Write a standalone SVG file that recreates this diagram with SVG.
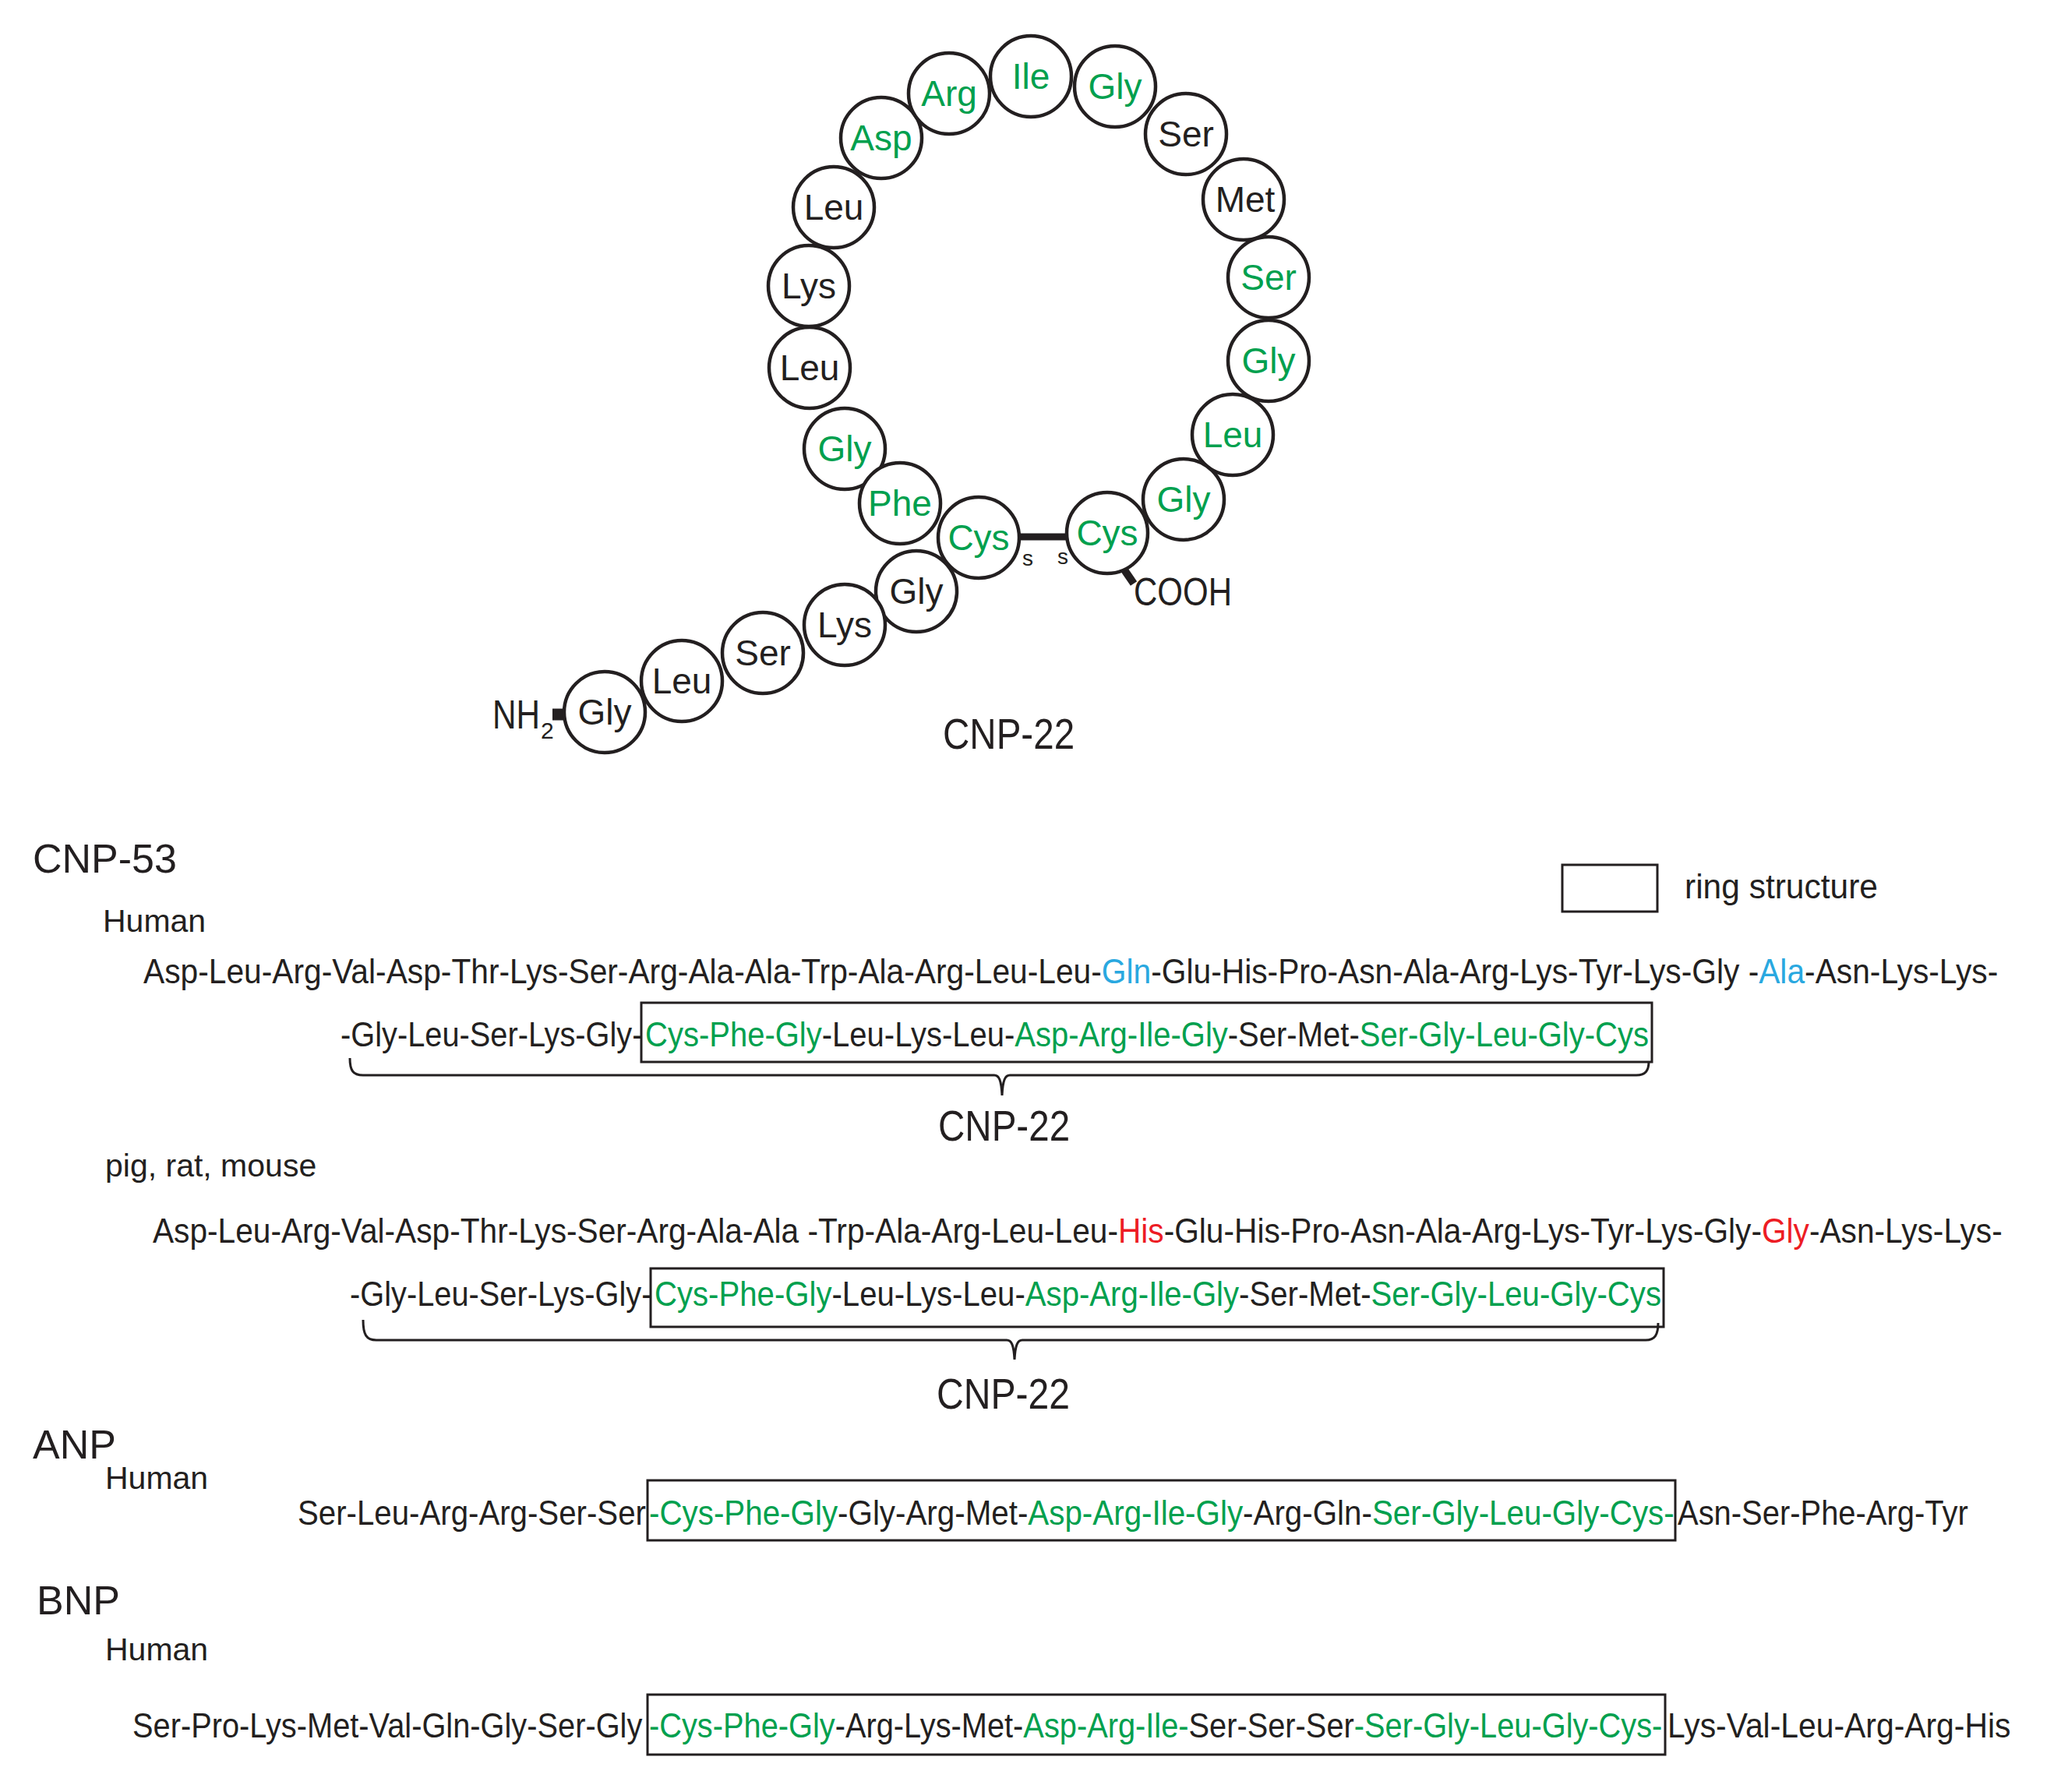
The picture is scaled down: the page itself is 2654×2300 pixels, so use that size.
<svg xmlns="http://www.w3.org/2000/svg" width="2654" height="2300" viewBox="0 0 2654 2300">
<style>
text{font-family:"Liberation Sans",Arial,sans-serif;fill:#231f20}
.res circle{fill:#fff;stroke:#231f20;stroke-width:4.5}
.res text{font-size:46px;text-anchor:middle}
.g{fill:#00a04e}
.bl{fill:#29a8e0}
.rd{fill:#ed1c24}
.seq{font-size:44px}
.box{fill:none;stroke:#231f20;stroke-width:3}
.brace{fill:none;stroke:#231f20;stroke-width:3}
.bond{stroke:#231f20;fill:none}
.title{font-size:52px}
.sp{font-size:41px}
</style>
<rect width="2654" height="2300" fill="#fff"/>

<g id="connectors">
<line class="bond" x1="1305" y1="689" x2="1371" y2="689" stroke-width="9"/>
<line class="bond" x1="1442" y1="730" x2="1455" y2="749" stroke-width="10"/>
<line class="bond" x1="709" y1="917" x2="728" y2="917" stroke-width="15"/>
</g>

<g id="ring">
<g class="res" id="r-asp"><circle cx="1131" cy="177" r="52"/><text class="g" x="1131" y="193">Asp</text></g>
<g class="res" id="r-arg"><circle cx="1218" cy="120" r="52"/><text class="g" x="1218" y="136">Arg</text></g>
<g class="res" id="r-ile"><circle cx="1323" cy="98" r="52"/><text class="g" x="1323" y="114">Ile</text></g>
<g class="res" id="r-gly1"><circle cx="1431" cy="111" r="52"/><text class="g" x="1431" y="127">Gly</text></g>
<g class="res" id="r-ser1"><circle cx="1522" cy="172" r="52"/><text x="1522" y="188">Ser</text></g>
<g class="res" id="r-met"><circle cx="1596" cy="256" r="52"/><text x="1598" y="272">Met</text></g>
<g class="res" id="r-ser2"><circle cx="1628" cy="356" r="52"/><text class="g" x="1628" y="372">Ser</text></g>
<g class="res" id="r-gly2"><circle cx="1628" cy="463" r="52"/><text class="g" x="1628" y="479">Gly</text></g>
<g class="res" id="r-leu3"><circle cx="1582" cy="558" r="52"/><text class="g" x="1582" y="574">Leu</text></g>
<g class="res" id="r-gly3"><circle cx="1519" cy="641" r="52"/><text class="g" x="1519" y="657">Gly</text></g>
<g class="res" id="r-cys2"><circle cx="1421" cy="684" r="52"/><text class="g" x="1421" y="700">Cys</text></g>
<g class="res" id="r-leu1"><circle cx="1070" cy="266" r="52"/><text x="1070" y="282">Leu</text></g>
<g class="res" id="r-lys1"><circle cx="1038" cy="367" r="52"/><text x="1038" y="383">Lys</text></g>
<g class="res" id="r-leu2"><circle cx="1039" cy="472" r="52"/><text x="1039" y="488">Leu</text></g>
<g class="res" id="r-gly4"><circle cx="1084" cy="576" r="52"/><text class="g" x="1084" y="592">Gly</text></g>
<g class="res" id="r-phe"><circle cx="1155" cy="646" r="52"/><text class="g" x="1155" y="662">Phe</text></g>
<g class="res" id="r-cys1"><circle cx="1256" cy="690" r="52"/><text class="g" x="1256" y="706">Cys</text></g>
<g class="res" id="t-gly5"><circle cx="1176" cy="759" r="52"/><text x="1176" y="775">Gly</text></g>
<g class="res" id="t-lys"><circle cx="1084" cy="802" r="52"/><text x="1084" y="818">Lys</text></g>
<g class="res" id="t-ser"><circle cx="979" cy="838" r="52"/><text x="979" y="854">Ser</text></g>
<g class="res" id="t-leu"><circle cx="875" cy="874" r="52"/><text x="875" y="890">Leu</text></g>
<g class="res" id="t-gly6"><circle cx="776" cy="914" r="52"/><text x="776" y="930">Gly</text></g>
</g>

<g id="ring-labels">
<text x="1312" y="726" font-size="28">s</text>
<text x="1357" y="724" font-size="28">s</text>
<text transform="translate(1455,777) scale(0.84,1)" font-size="50">COOH</text>
<text transform="translate(632,935) scale(0.812,1)" font-size="52">NH</text>
<text x="694" y="948" font-size="30">2</text>
<text transform="translate(1210,961) scale(0.849,1)" font-size="56">CNP-22</text>
</g>

<g id="legend">
<rect class="box" x="2005" y="1110" width="122" height="60"/>
<text transform="translate(2162,1153) scale(0.966,1)" font-size="44">ring structure</text>
</g>

<g id="cnp53">
<text class="title" x="42" y="1120">CNP-53</text>
<text class="sp" x="132" y="1196">Human</text>
<text class="seq" transform="translate(184,1262) scale(0.926,1)">Asp-Leu-Arg-Val-Asp-Thr-Lys-Ser-Arg-Ala-Ala-Trp-Ala-Arg-Leu-Leu-<tspan class="bl">Gln</tspan>-Glu-His-Pro-Asn-Ala-Arg-Lys-Tyr-Lys-Gly -<tspan class="bl">Ala</tspan>-Asn-Lys-Lys-</text>

<rect class="box" x="823" y="1287" width="1297" height="76"/>
<text class="seq" transform="translate(437,1343) scale(0.9042,1)">-Gly-Leu-Ser-Lys-Gly-</text>
<text class="seq" transform="translate(828,1343) scale(0.9095,1)"><tspan class="g">Cys-Phe-Gly</tspan>-Leu-Lys-Leu-<tspan class="g">Asp-Arg-Ile-Gly</tspan>-Ser-Met-<tspan class="g">Ser-Gly-Leu-Gly-Cys</tspan></text>
<path class="brace" d="M449,1358 C449,1374 453,1380 466,1380 H1276 C1282,1380 1285,1386 1286,1406 C1287,1386 1290,1380 1296,1380 H2100 C2112,1380 2116,1374 2116,1362"/>
<text transform="translate(1204,1464) scale(0.849,1)" font-size="56">CNP-22</text>

<text class="sp" x="135" y="1510">pig, rat, mouse</text>
<text class="seq" transform="translate(196,1595) scale(0.9242,1)">Asp-Leu-Arg-Val-Asp-Thr-Lys-Ser-Arg-Ala-Ala -Trp-Ala-Arg-Leu-Leu-<tspan class="rd">His</tspan>-Glu-His-Pro-Asn-Ala-Arg-Lys-Tyr-Lys-Gly-<tspan class="rd">Gly</tspan>-Asn-Lys-Lys-</text>

<rect class="box" x="835" y="1628" width="1300" height="75"/>
<text class="seq" transform="translate(449,1676) scale(0.9042,1)">-Gly-Leu-Ser-Lys-Gly-</text>
<text class="seq" transform="translate(840,1676) scale(0.9122,1)"><tspan class="g">Cys-Phe-Gly</tspan>-Leu-Lys-Leu-<tspan class="g">Asp-Arg-Ile-Gly</tspan>-Ser-Met-<tspan class="g">Ser-Gly-Leu-Gly-Cys</tspan></text>
<path class="brace" d="M466,1694 C466,1713 470,1720 483,1720 H1292 C1298,1720 1301,1726 1302,1745 C1303,1726 1306,1720 1312,1720 H2112 C2124,1720 2128,1713 2128,1698"/>
<text transform="translate(1202,1808) scale(0.859,1)" font-size="56">CNP-22</text>
</g>

<g id="anp">
<text class="title" x="42" y="1872">ANP</text>
<text class="sp" x="135" y="1911">Human</text>
<rect class="box" x="831" y="1900" width="1319" height="77"/>
<text class="seq" transform="translate(382,1957) scale(0.9141,1)">Ser-Leu-Arg-Arg-Ser-Ser</text>
<text class="seq" transform="translate(833,1957) scale(0.9171,1)"><tspan class="g">-Cys-Phe-Gly</tspan>-Gly-Arg-Met-<tspan class="g">Asp-Arg-Ile-Gly</tspan>-Arg-Gln-<tspan class="g">Ser-Gly-Leu-Gly-Cys-</tspan></text>
<text class="seq" transform="translate(2153,1957) scale(0.9077,1)">Asn-Ser-Phe-Arg-Tyr</text>
</g>

<g id="bnp">
<text class="title" x="47" y="2072">BNP</text>
<text class="sp" x="135" y="2131">Human</text>
<rect class="box" x="831" y="2175" width="1306" height="77"/>
<text class="seq" transform="translate(170,2230) scale(0.9046,1)">Ser-Pro-Lys-Met-Val-Gln-Gly-Ser-Gly</text>
<text class="seq" transform="translate(833,2230) scale(0.9043,1)"><tspan class="g">-Cys-Phe-Gly</tspan>-Arg-Lys-Met-<tspan class="g">Asp-Arg-Ile-</tspan>Ser-Ser-Ser<tspan class="g">-Ser-Gly-Leu-Gly-Cys-</tspan></text>
<text class="seq" transform="translate(2140,2230) scale(0.9288,1)">Lys-Val-Leu-Arg-Arg-His</text>
</g>
</svg>
